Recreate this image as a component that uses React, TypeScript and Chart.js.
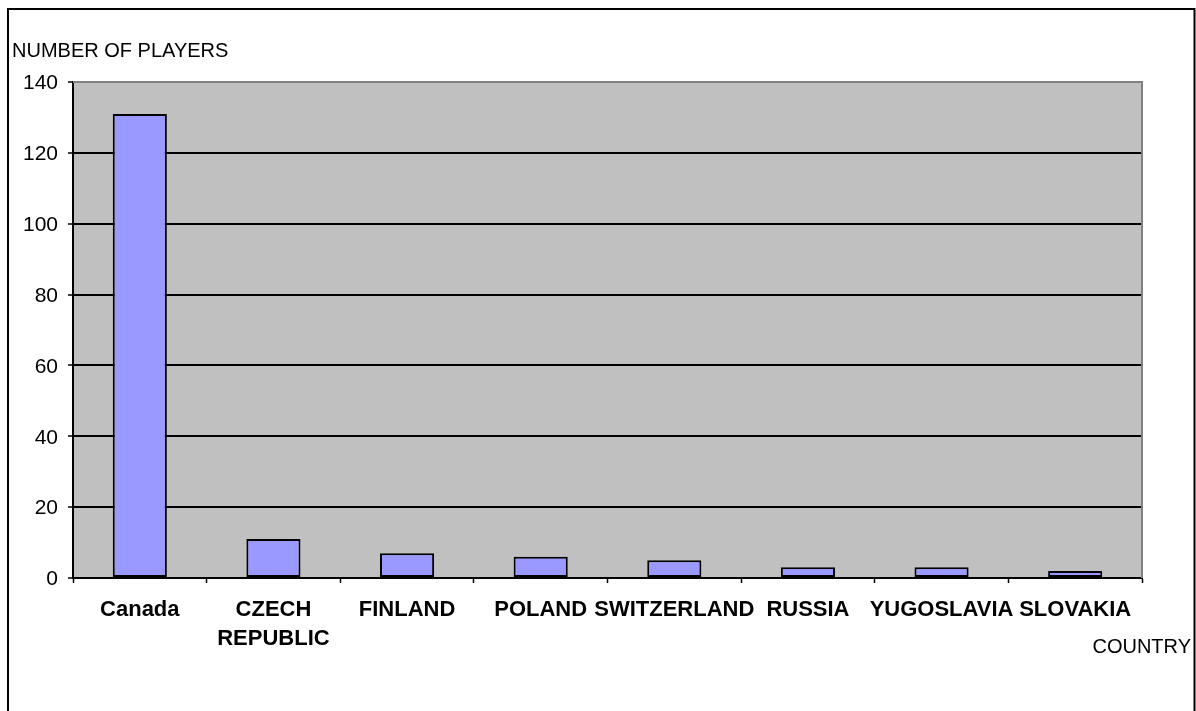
import React, { useEffect, useRef } from "react";
import { Chart, registerables } from "chart.js";

Chart.register(...registerables);

const categories: (string | string[])[] = [
  "Canada",
  ["CZECH", "REPUBLIC"],
  "FINLAND",
  "POLAND",
  "SWITZERLAND",
  "RUSSIA",
  "YUGOSLAVIA",
  "SLOVAKIA",
];
const players: number[] = [131, 11, 7, 6, 5, 3, 3, 2];
const yTitle = "NUMBER OF PLAYERS";
const xTitle = "COUNTRY";
const yMin = 0;
const yMax = 140;
const yStep = 20;

const FONT = '"Liberation Sans", Arial, sans-serif';

const framePlugin = {
  id: "framePlugin",
  beforeDraw(chart: any) {
    const { ctx, chartArea } = chart;
    ctx.save();
    ctx.fillStyle = "#ffffff";
    ctx.fillRect(0, 0, chart.width, chart.height);
    ctx.fillStyle = "#c0c0c0";
    ctx.fillRect(chartArea.left, chartArea.top, chartArea.right - chartArea.left, chartArea.bottom - chartArea.top);
    ctx.restore();
  },
  afterDraw(chart: any) {
    const { ctx, chartArea } = chart;
    ctx.save();
    ctx.strokeStyle = "#808080";
    ctx.lineWidth = 2;
    ctx.beginPath();
    ctx.moveTo(chartArea.left, chartArea.top);
    ctx.lineTo(chartArea.right, chartArea.top);
    ctx.lineTo(chartArea.right, chartArea.bottom);
    ctx.stroke();
    ctx.strokeStyle = "#000000";
    ctx.lineWidth = 2;
    ctx.beginPath();
    ctx.moveTo(8, chart.height + 5);
    ctx.lineTo(8, 9);
    ctx.lineTo(1194.5, 9);
    ctx.lineTo(1194.5, chart.height + 5);
    ctx.stroke();
    ctx.fillStyle = "#000000";
    ctx.font = `20px ${FONT}`;
    ctx.textBaseline = "alphabetic";
    ctx.textAlign = "left";
    ctx.fillText(yTitle, 12, 57);
    ctx.textAlign = "right";
    ctx.fillText(xTitle, 1191, 653);
    ctx.restore();
  },
};

export default function App() {
  const ref = useRef<HTMLCanvasElement | null>(null);

  useEffect(() => {
    if (!ref.current) return;
    const chart = new Chart(ref.current, {
      type: "bar",
      data: {
        labels: categories as any,
        datasets: [
          {
            data: players,
            backgroundColor: "#9999ff",
            borderColor: "#000000",
            borderWidth: 2,
            borderSkipped: false,
            categoryPercentage: 1,
            barPercentage: 0.405,
          },
        ],
      },
      options: {
        animation: false,
        responsive: false,
        maintainAspectRatio: false,
        layout: { padding: { top: 82, right: 54, left: 0, bottom: 0 } },
        plugins: {
          legend: { display: false },
          tooltip: { enabled: false },
          title: { display: false },
        },
        scales: {
          x: {
            afterFit(scale: any) {
              scale.height = 133;
            },
            grid: {
              offset: true,
              drawOnChartArea: false,
              drawTicks: true,
              tickLength: 5,
              tickColor: "#000000",
              tickWidth: 1.5,
            },
            border: { display: true, color: "#000000", width: 2 },
            ticks: {
              color: "#000000",
              padding: 12,
              maxRotation: 0,
              minRotation: 0,
              autoSkip: false,
              font: { family: FONT, size: 22, weight: "bold", lineHeight: 1.34 },
            },
          },
          y: {
            min: yMin,
            max: yMax,
            afterFit(scale: any) {
              scale.width = 73;
            },
            grid: {
              color: (c: any) => (c.tick && c.tick.value === yMax ? "#808080" : "#000000"),
              lineWidth: 2,
              tickLength: 5,
              tickColor: "#000000",
              tickWidth: 1.5,
            },
            border: { display: true, color: "#000000", width: 2 },
            ticks: {
              stepSize: yStep,
              color: "#000000",
              padding: 10,
              labelOffset: 1.5,
              font: { family: FONT, size: 21 },
            },
          },
        },
      },
      plugins: [framePlugin],
    });
    return () => chart.destroy();
  }, []);

  return (
    <div style={{ position: "absolute", left: 0, top: 0, width: 1196, height: 711 }}>
      <canvas ref={ref} width={1196} height={711} style={{ display: "block", width: 1196, height: 711 }} />
    </div>
  );
}
